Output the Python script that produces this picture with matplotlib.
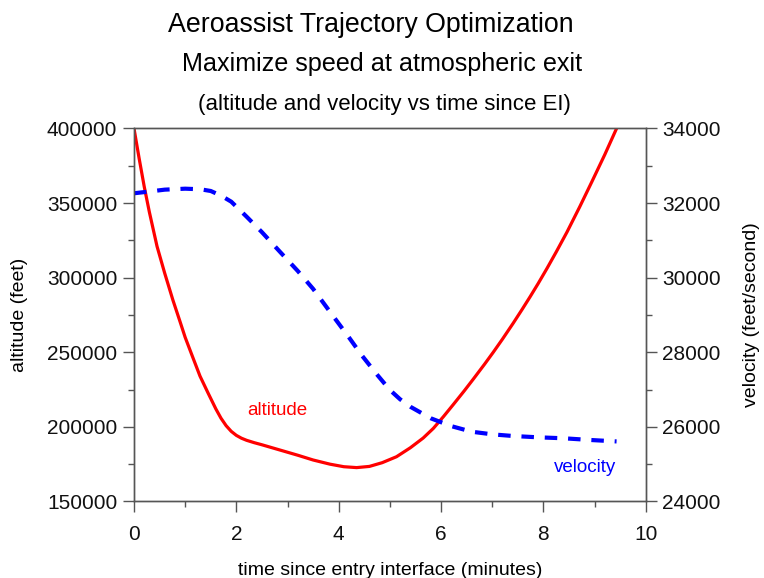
import numpy as np
import matplotlib
matplotlib.use('Agg')
import matplotlib.pyplot as plt
from matplotlib.ticker import MultipleLocator

plt.rcParams['font.family'] = ['Liberation Sans', 'DejaVu Sans']

# altitude (feet) vs time since EI (minutes)
t_alt = [0, 0.1, 0.2, 0.3, 0.45, 0.6, 0.76, 0.9, 1.0, 1.15, 1.29, 1.45, 1.6, 1.7,
         1.8, 1.9, 2.0, 2.1, 2.2, 2.35, 2.5, 2.85, 3.2, 3.5, 3.83, 4.1, 4.35, 4.6,
         4.85, 5.13, 5.4, 5.65, 5.85, 6.05, 6.24, 6.45, 6.63, 6.85, 7.02, 7.2, 7.41,
         7.58, 7.74, 7.9, 8.07, 8.25, 8.46, 8.71, 8.95, 9.2, 9.43]
altitude = [400000, 380000, 361000, 344000, 321000, 303000, 285000, 270500, 260000,
            246500, 234000, 222500, 212000, 205800, 200800, 197000, 194300, 192400,
            191000, 189400, 188000, 184500, 181000, 177800, 175000, 173300, 172700,
            173500, 176000, 180000, 186000, 192500, 199000, 207000, 215000, 224000,
            232000, 242000, 250000, 258800, 269500, 278500, 287200, 296200, 306200,
            317200, 330500, 347500, 364500, 382500, 400000]

# velocity (feet/second)
t_vel = [0, 0.3, 0.6, 1.0, 1.3, 1.5, 1.7, 1.9, 2.2, 2.5, 2.85, 3.2, 3.5, 3.9, 4.2,
         4.45, 4.75, 5.0, 5.2, 5.4, 5.8, 6.2, 6.6, 7.0, 7.4, 7.9, 8.4, 8.9, 9.43]
velocity = [32263, 32310, 32360, 32386, 32370, 32324, 32200, 32038, 31636, 31220,
            30697, 30180, 29700, 28954, 28400, 27920, 27400, 26990, 26740, 26540,
            26230, 26020, 25870, 25800, 25756, 25720, 25694, 25650, 25610]

spine_col = '#555555'

fig = plt.figure(figsize=(7.64, 5.78), dpi=100)
ax = fig.add_axes([0.1754, 0.1324, 0.6698, 0.6453])
ax2 = ax.twinx()

ax.plot(t_alt, altitude, color='#ff0000', lw=2.3, solid_joinstyle='round')
ax2.plot(t_vel, velocity, color='#0000ff', lw=3, linestyle=(0, (3, 2.6)))

ax.set_xlim(0, 10)
ax.set_ylim(150000, 400000)
ax2.set_ylim(24000, 34000)

ax.xaxis.set_major_locator(MultipleLocator(2))
ax.xaxis.set_minor_locator(MultipleLocator(1))
ax.yaxis.set_major_locator(MultipleLocator(50000))
ax.yaxis.set_minor_locator(MultipleLocator(25000))
ax2.yaxis.set_major_locator(MultipleLocator(2000))
ax2.yaxis.set_minor_locator(MultipleLocator(1000))

for a in (ax, ax2):
    for s in a.spines.values():
        s.set_color(spine_col)
        s.set_linewidth(1.0)
    a.tick_params(which='major', direction='out', length=8, width=1, color=spine_col,
                  labelsize=15, labelcolor='#111111', pad=4)
    a.tick_params(which='minor', direction='out', length=4, width=1, color=spine_col)
ax.tick_params(axis='x', which='major', pad=9)

ax.set_xlabel('time since entry interface (minutes)', fontsize=14, labelpad=13)
ax.set_ylabel('altitude (feet)', fontsize=14, labelpad=14)
ax2.set_ylabel('velocity (feet/second)', fontsize=14, labelpad=16)

ax.text(2.80, 211300, 'altitude', color='#ff0000', fontsize=13.5, ha='center', va='center')
ax.text(8.82, 172450, 'velocity', color='#0000ff', fontsize=13.5, ha='center', va='center')

fig.text(0.4856, 0.945, 'Aeroassist Trajectory Optimization', fontsize=19.3,
         ha='center', va='baseline')
fig.text(0.5, 0.8777, 'Maximize speed at atmospheric exit', fontsize=18.1,
         ha='center', va='baseline')
fig.text(0.5033, 0.8097, '(altitude and velocity vs time since EI)', fontsize=16,
         ha='center', va='baseline')

fig.savefig('out.png', dpi=100)
